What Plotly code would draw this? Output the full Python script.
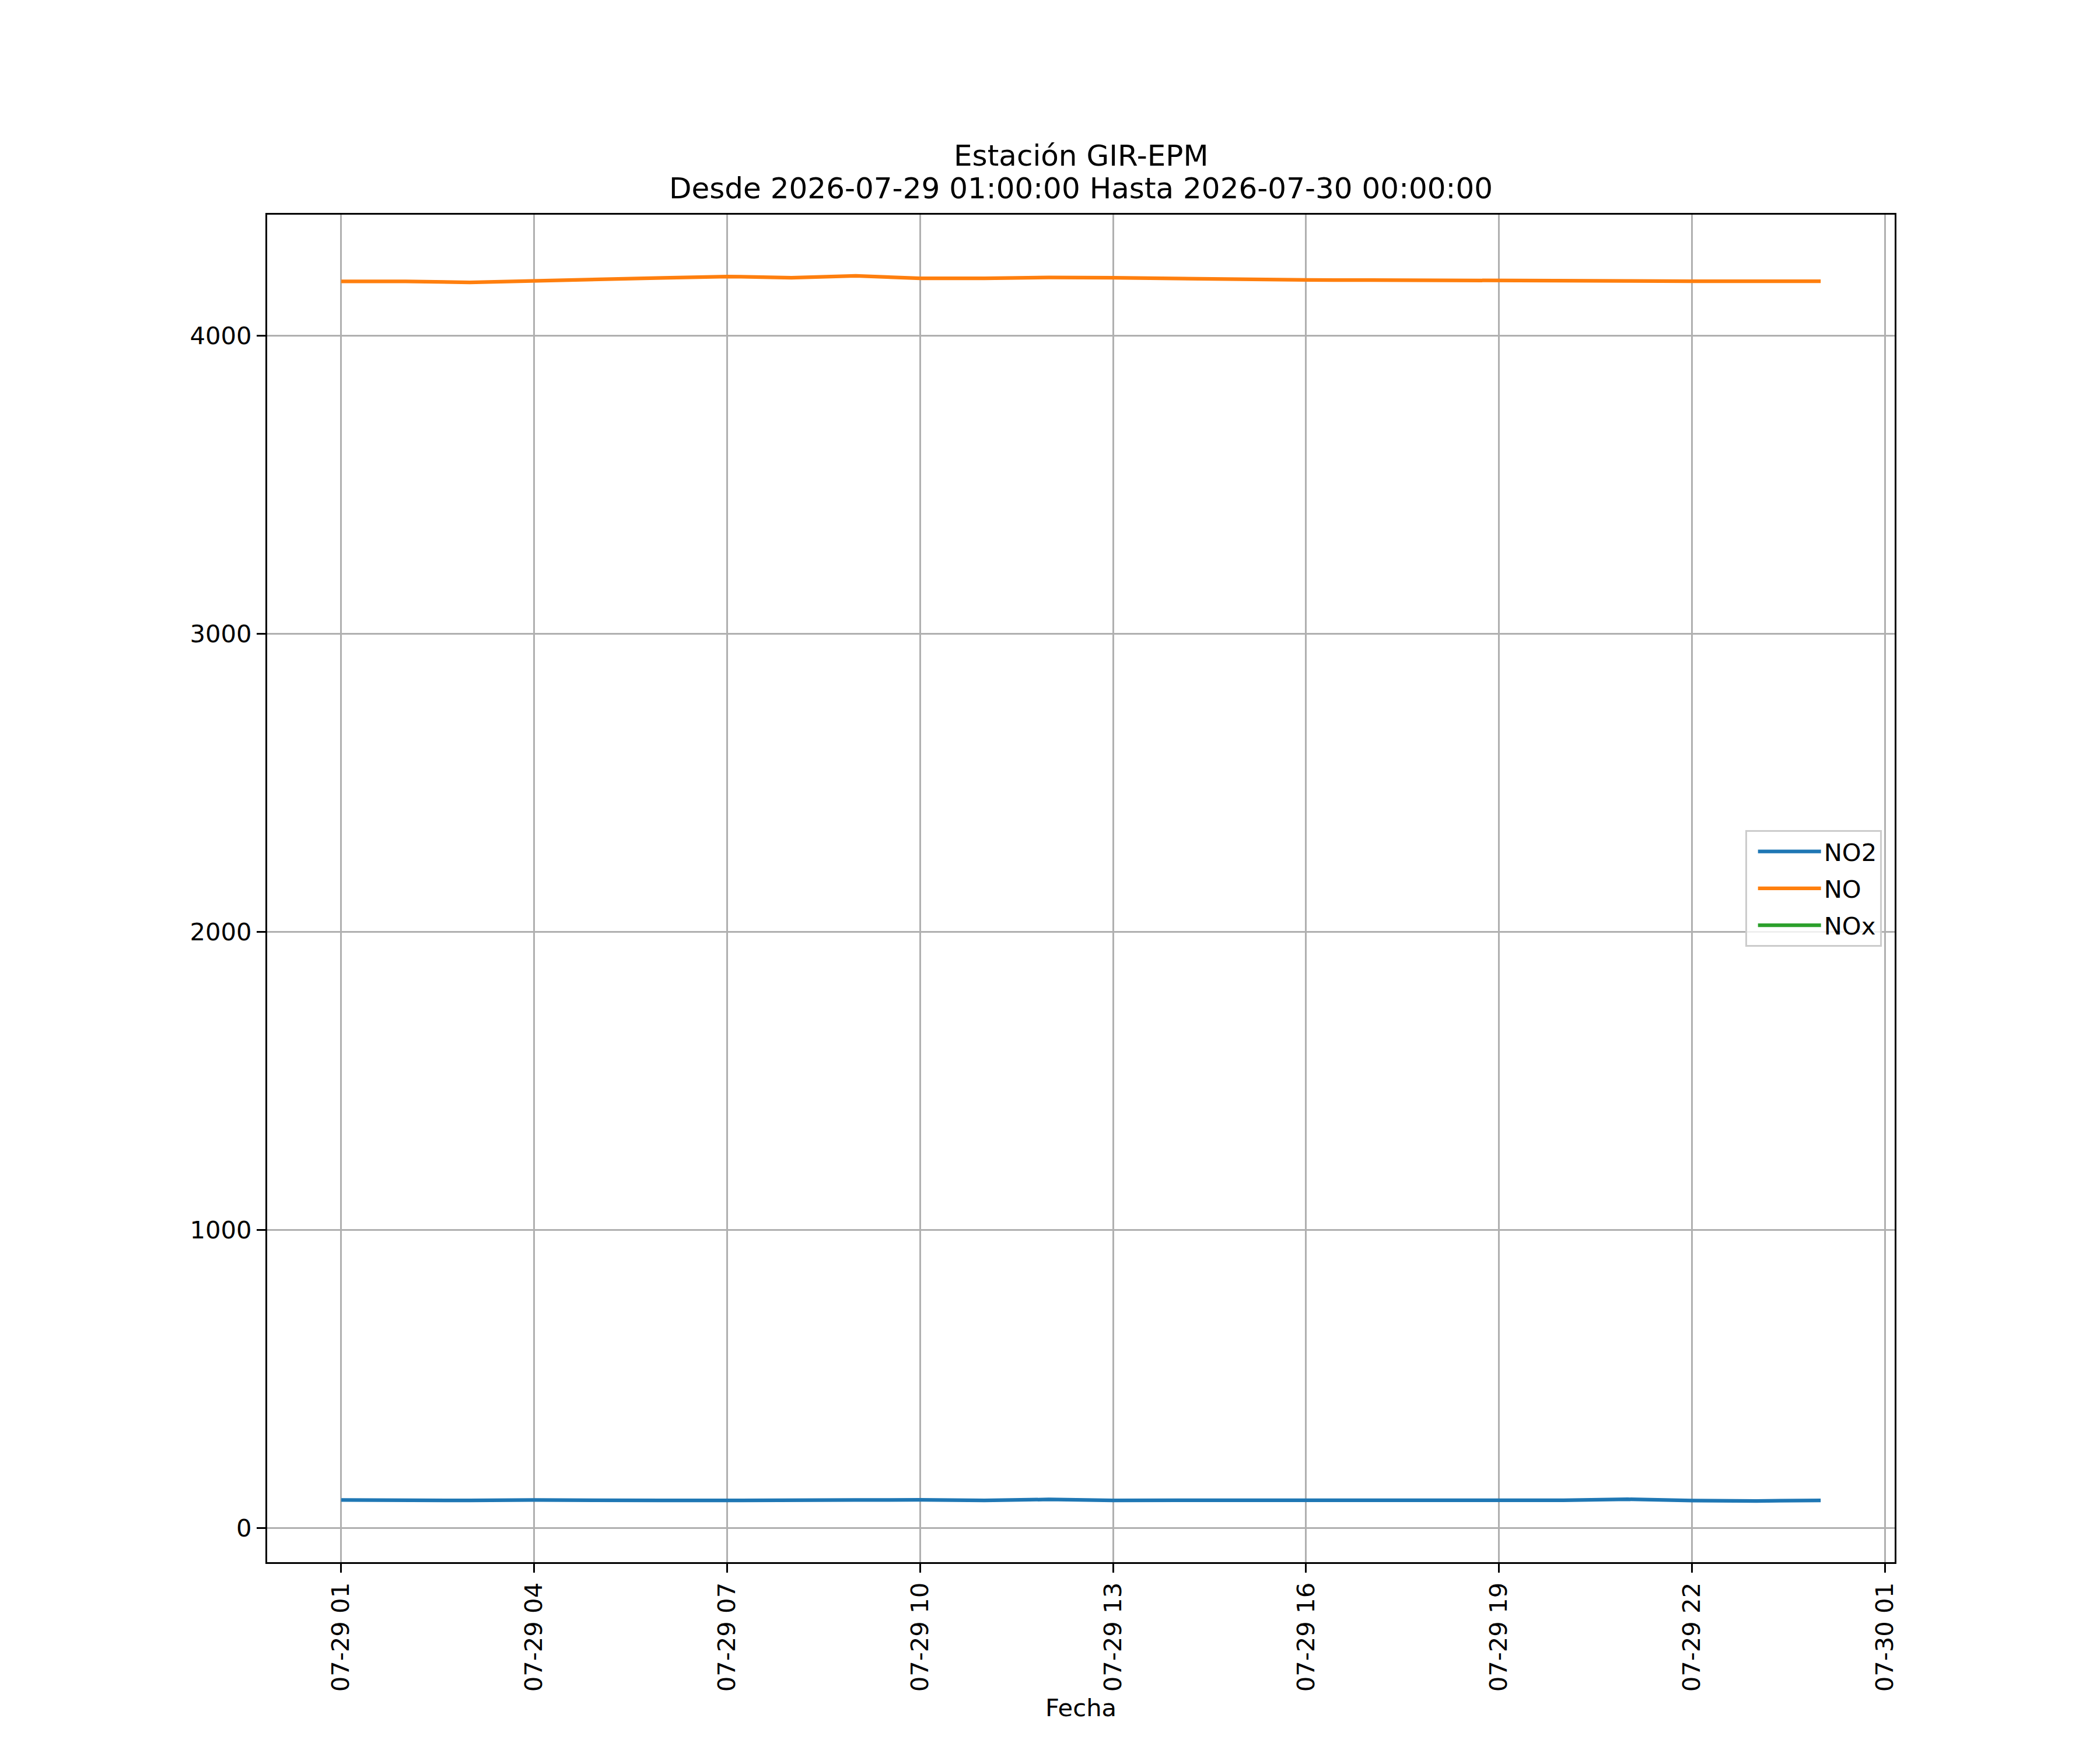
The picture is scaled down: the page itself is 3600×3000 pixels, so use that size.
import plotly.graph_objects as go
import pandas as pd

# ---- data ----
times = pd.date_range("2026-07-29 01:00:00", "2026-07-30 00:00:00", freq="h")
no2 = [94, 92, 92.5, 94, 92, 92.5, 92.7, 94.6, 94, 94.6, 92.5, 96,
       92.5, 93, 93, 92.5, 91, 91.5, 91, 93, 96.6, 92, 91, 92.5]
no = [4182.7, 4182.7, 4179.4, 4185.3, 4190.5, 4194.4, 4199, 4195, 4201, 4193, 4193, 4196,
      4195, 4191.5, 4189, 4187.5, 4187, 4187, 4187, 4184.3, 4184.3, 4183, 4183, 4183]
nox = [None] * len(times)

series_names = ["NO2", "NO", "NOx"]
series_colors = ["#1f77b4", "#ff7f0e", "#2ca02c"]
title_lines = ["Estación GIR-EPM", "Desde 2026-07-29 01:00:00 Hasta 2026-07-30 00:00:00"]
x_label = "Fecha"
y_ticks = [0, 1000, 2000, 3000, 4000]

# ---- figure geometry (matplotlib-like, 12x10 in at 300 dpi) ----
W, H = 3600, 3000
L, R, T, B = 450, 360, 360, 330
FS = 41.7      # 10 pt
FS_T = 50      # 12 pt
LW = 6.25      # 1.5 pt
SPW = 3.3      # 0.8 pt

fig = go.Figure()
for name, vals, col in zip(series_names, [no2, no, nox], series_colors):
    fig.add_trace(go.Scatter(x=times, y=vals, mode="lines", name=name,
                             legendgroup=name,
                             line=dict(color=col, width=LW)))

# axis ranges with 5% margins as matplotlib
t0, t1 = times[0], times[-1]
span = t1 - t0
xr = [t0 - span * 0.05, t1 + span * 0.05]
allv = [v for v in no2 + no if v is not None]
vmin, vmax = min(allv), max(allv)
yr = [vmin - 0.05 * (vmax - vmin), vmax + 0.05 * (vmax - vmin)]

font = dict(family="DejaVu Sans", size=FS, color="black")

fig.update_layout(
    width=W, height=H,
    margin=dict(l=L, r=R, t=T, b=B, pad=0, autoexpand=False),
    paper_bgcolor="white", plot_bgcolor="white",
    font=font,
    showlegend=True,
    legend=dict(
        xref="paper", yref="paper",
        x=0.992, y=0.5, xanchor="right", yanchor="middle",
        bgcolor="rgba(255,255,255,0.8)", bordercolor="#cccccc", borderwidth=3,
        font=dict(family="DejaVu Sans", size=FS, color="black"),
        itemwidth=108, indentation=14, tracegroupgap=6, traceorder="grouped",
    ),
)

fig.update_xaxes(
    range=xr, type="date",
    tick0="2026-07-29 01:00:00", dtick=3 * 3600 * 1000,
    tickformat="%m-%d %H", tickangle=-90,
    ticks="outside", ticklen=15, tickwidth=SPW, tickcolor="black",
    showgrid=True, gridcolor="#b0b0b0", gridwidth=SPW,
    showline=True, linecolor="black", linewidth=SPW, mirror=True,
    zeroline=False, tickfont=font,
    title=dict(text=x_label, font=font, standoff=14),
    automargin=False,
)
fig.update_yaxes(
    range=yr, tickvals=y_ticks, ticktext=[str(v) for v in y_ticks],
    ticks="outside", ticklen=15, tickwidth=SPW, tickcolor="black",
    showgrid=True, gridcolor="#b0b0b0", gridwidth=SPW,
    showline=True, linecolor="black", linewidth=SPW, mirror=True,
    zeroline=False, tickfont=font, automargin=False,
)

title_font = dict(family="DejaVu Sans", size=FS_T, color="black")
fig.add_annotation(
    text=title_lines[1], xref="paper", yref="paper",
    x=0.5, y=1, xanchor="center", yanchor="bottom", yshift=14,
    showarrow=False, font=title_font,
)
fig.add_annotation(
    text=title_lines[0], xref="paper", yref="paper",
    x=0.5, y=1, xanchor="center", yanchor="bottom", yshift=70,
    showarrow=False, font=title_font,
)

fig.write_html("out.html")
